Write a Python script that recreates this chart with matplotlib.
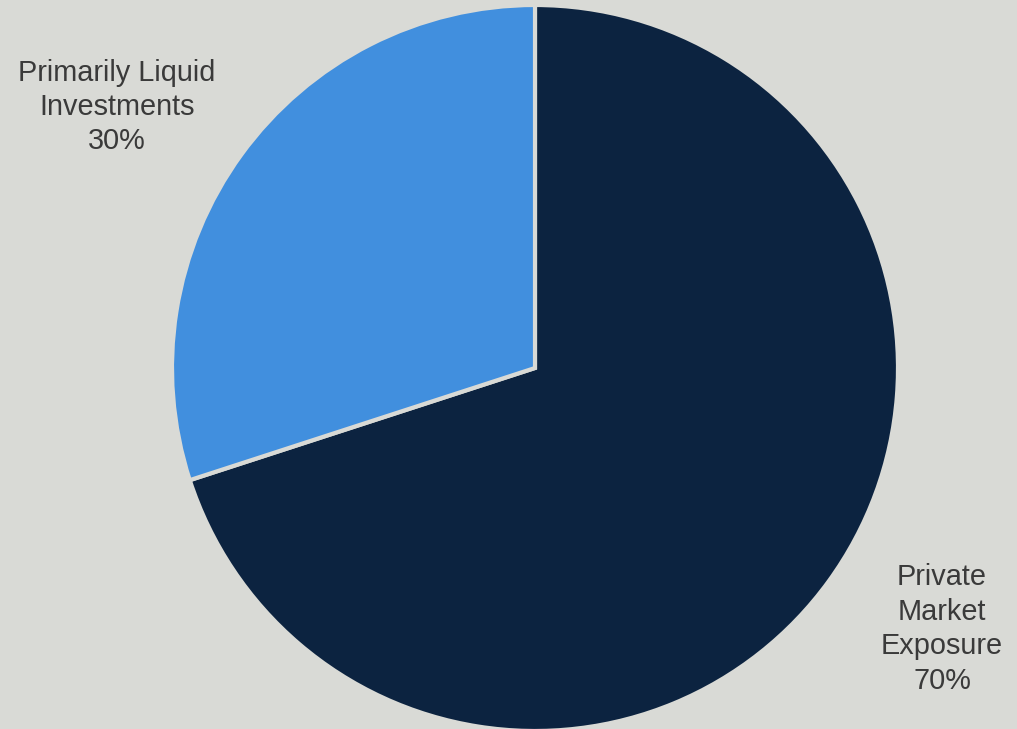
import matplotlib
matplotlib.use("Agg")
import matplotlib.pyplot as plt

labels = ["Private\nMarket\nExposure\n70%", "Primarily Liquid\nInvestments\n30%"]
values = [70, 30]
colors = ["#0c2340", "#418fde"]
bg = "#d9dad6"

fig = plt.figure(figsize=(10.17, 7.29), dpi=100, facecolor=bg)
ax = fig.add_axes([0, 0, 1, 1])
ax.set_facecolor(bg)

cx, cy, r = 535, 729 - 368, 363
wedges, _ = ax.pie(values, colors=colors, startangle=90, counterclock=False,
                   center=(cx, cy), radius=r, frame=True,
                   wedgeprops=dict(edgecolor=bg, linewidth=3))
ax.set_xlim(0, 1017)
ax.set_ylim(0, 729)
ax.set_aspect("equal")
ax.axis("off")

txt = dict(ha="center", va="center", fontsize=20.8, color="#3a3a3a",
           family="Liberation Sans", linespacing=1.29)
ax.text(942, 729 - 629, labels[0], **txt)
ax.text(117, 729 - 107, labels[1], **txt)

fig.savefig("out.png", dpi=100, facecolor=bg)
